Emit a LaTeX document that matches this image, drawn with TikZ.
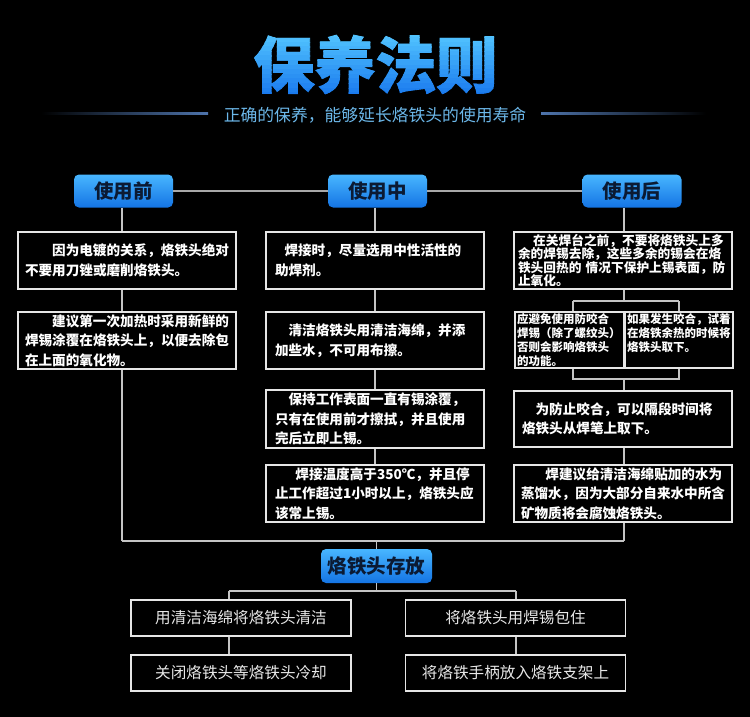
\documentclass[tikz,border=0pt]{standalone}
\usepackage{fontspec}
\setmainfont{Noto Sans CJK SC}
\newfontfamily\titlefont[BoldFeatures={FakeBold=1.5}]{Noto Sans CJK SC}
\definecolor{titletop}{HTML}{52C4FF}
\definecolor{titlebot}{HTML}{1A7AEE}
\definecolor{hdrtop}{HTML}{48B6FF}
\definecolor{hdrbot}{HTML}{1474E4}
\definecolor{hdrtext}{HTML}{0B1A33}
\definecolor{subtc}{HTML}{6CB8EA}
\definecolor{sublc}{HTML}{4E74AC}
\definecolor{hlinec}{HTML}{A8A8A8}
\definecolor{connc}{HTML}{C4C4C4}
\definecolor{boxc}{HTML}{E6E6E6}
\definecolor{btext}{HTML}{E8E8E8}
\begin{document}
\begin{tikzpicture}[x=1pt,y=-1pt,
  hdr/.style={rounded corners=5pt, top color=hdrtop, bottom color=hdrbot,
    minimum width=99pt, minimum height=33pt, inner sep=0pt, text=hdrtext,
    font=\fontsize{19.5}{20}\selectfont\bfseries},
  txtbox/.style={draw=boxc, line width=1.1pt, text=white, align=left,
    inner ysep=0pt, font=\fontsize{13.6}{19.5}\selectfont\bfseries},
  smallbox/.style={draw=boxc, line width=1.1pt, text=white, align=left,
    inner ysep=0pt, inner xsep=2pt},
  botbox/.style={draw=boxc, line width=1.1pt, text=btext, align=center,
    minimum width=220pt, minimum height=36pt, inner sep=0pt,
    font=\fontsize{15.6}{18}\selectfont},
  conn/.style={draw=connc, line width=1.1pt},
  hline/.style={draw=hlinec, line width=2pt}]
\fill[black] (0,0) rectangle (750,717);
\useasboundingbox (0,0) rectangle (750,717);

% title with stepped vertical gradient
\foreach \i in {0,...,13}{
  \pgfmathsetmacro\pct{100*\i/13}
  \begin{scope}
    \clip (240,{33+\i*4.6}) rectangle (510,{33+(\i+1)*4.6+0.3});
    \node[text=titlebot!\pct!titletop, inner sep=0pt,
      font=\titlefont\bfseries\fontsize{61}{61}\selectfont] (title\i) at (375.5,64.5) {保养法则};
  \end{scope}
}
% subtitle
\node[text=subtc, inner sep=0pt, font=\fontsize{16.8}{17}\selectfont] (subt) at (375,115) {正确的保养，能够延长烙铁头的使用寿命};
\shade[left color=black, right color=sublc] (41,112.4) rectangle (208,114);
\shade[left color=sublc, right color=black] (541,112.4) rectangle (706,114);

% headers
\node[hdr] (h1) at (123.5,191) {使用前};
\node[hdr] (h2) at (377.5,191) {使用中};
\node[hdr] (h3) at (632,191) {使用后};
\draw[hline] (h1.east) -- (h2.west);
\draw[hline] (h2.east) -- (h3.west);

% left column
\node[txtbox, minimum width=218pt, minimum height=57pt, inner xsep=7pt, text width=204pt] (l1) at (127,260.5)
  {\hspace*{2em}因为电镀的关系，烙铁头绝对\\不要用刀锉或磨削烙铁头。};
\node[txtbox, minimum width=218pt, minimum height=57pt, inner xsep=7pt, text width=204pt] (l2) at (127,340.5)
  {\hspace*{2em}建议第一次加热时采用新鲜的\\焊锡涂覆在烙铁头上，以便去除包\\在上面的氧化物。};

% middle column
\node[txtbox, minimum width=218pt, minimum height=57pt, inner xsep=9pt, text width=200pt] (m1) at (375,260.5)
  {\hspace*{0.7em}焊接时，尽量选用中性活性的\\助焊剂。};
\node[txtbox, minimum width=218pt, minimum height=57pt, inner xsep=9pt, text width=200pt] (m2) at (375,340.5)
  {\hspace*{1em}清洁烙铁头用清洁海绵，并添\\加些水，不可用布擦。};
\node[txtbox, minimum width=218pt, minimum height=58pt, inner xsep=9pt, text width=200pt] (m3) at (375,419)
  {\hspace*{1em}保持工作表面一直有锡涂覆，\\只有在使用前才擦拭，并且使用\\完后立即上锡。};
\node[txtbox, minimum width=218pt, minimum height=57pt, inner xsep=9pt, text width=200pt] (m4) at (375,493.5)
  {\hspace*{1.5em}焊接温度高于350℃，并且停\\止工作超过1小时以上，烙铁头应\\该常上锡。};

% right column
\node[txtbox, minimum width=218pt, minimum height=57pt, inner xsep=4pt, text width=210pt,
  font=\fontsize{12.7}{13.2}\selectfont\bfseries] (r1) at (623,260.5)
  {\hspace*{1.2em}在关焊台之前，不要将烙铁头上多\\余的焊锡去除，这些多余的锡会在烙\\铁头回热的 情况下保护上锡表面，防\\止氧化。};
\node[smallbox, minimum width=109pt, minimum height=56pt, text width=105pt,
  font=\fontsize{11.5}{14}\selectfont\bfseries] (rL) at (569.5,340)
  {应避免使用防咬合\\焊锡（除了螺纹头）\\否则会影响烙铁头\\的功能。};
\node[smallbox, minimum width=108pt, minimum height=56pt, text width=104pt,
  font=\fontsize{11.5}{14}\selectfont\bfseries] (rR) at (679,340)
  {如果发生咬合，试着\\在烙铁余热的时候将\\烙铁头取下。\\\mbox{}};
\node[txtbox, minimum width=218pt, minimum height=56pt, inner xsep=8pt, text width=202pt] (r3) at (623,419)
  {\hspace*{1em}为防止咬合，可以隔段时间将\\烙铁头从焊笔上取下。};
\node[txtbox, minimum width=218pt, minimum height=57pt, inner xsep=7pt, text width=204pt] (r4) at (623,493.5)
  {\hspace*{1.8em}焊建议给清洁海绵贴加的水为\\蒸馏水，因为大部分自来水中所含\\矿物质将会腐蚀烙铁头。};

% column connectors
\coordinate (bL) at (122,541);
\coordinate (bR) at (624,541);
\draw[conn] (h1.south -| bL) -- (l1.north -| bL);
\draw[conn] (l1.south -| bL) -- (l2.north -| bL);
\draw[conn] (l2.south -| bL) -- (bL);

\draw[conn] (h2.south -| m1.north) -- (m1.north);
\draw[conn] (m1.south) -- (m2.north);
\draw[conn] (m2.south) -- (m3.north);
\draw[conn] (m3.south) -- (m4.north);

\coordinate (rjA) at (573,301);
\coordinate (rjB) at (679,301);
\coordinate (rkA) at (573,379);
\coordinate (rkB) at (679,379);
\draw[conn] (h3.south -| bR) -- (r1.north -| bR);
\draw[conn] (r1.south -| bR) -- (rjA -| bR);
\draw[conn] (rjA) -- (rjB);
\draw[conn] (rjA) -- (rjA |- rL.north);
\draw[conn] (rjB) -- (rjB |- rR.north);
\draw[conn] (rjA |- rL.south) -- (rkA) -- (rkB) -- (rjB |- rR.south);
\draw[conn] (rkA -| bR) -- (r3.north -| bR);
\draw[conn] (r3.south -| bR) -- (r4.north -| bR);
\draw[conn] (r4.south -| bR) -- (bR);
\draw[conn] (bL) -- (bR);

% storage
\node[hdr, minimum width=111pt, minimum height=34pt] (st) at (376.5,566) {烙铁头存放};
\draw[conn] (st.north |- bL) -- (st.north);
\coordinate (sjA) at (229,591);
\coordinate (sjB) at (516,591);
\draw[conn] (st.south) -- (st.south |- sjA);
\draw[conn] (sjA) -- (sjB);

\node[botbox] (b1) at (241,618) {用清洁海绵将烙铁头清洁};
\node[botbox] (b2) at (515.5,618) {将烙铁头用焊锡包住};
\node[botbox] (b3) at (241,673) {关闭烙铁头等烙铁头冷却};
\node[botbox] (b4) at (515.5,673) {将烙铁手柄放入烙铁支架上};
\draw[conn] (sjA) -- (sjA |- b1.north);
\draw[conn] (sjB) -- (sjB |- b2.north);
\draw[conn] (b1.south -| sjA) -- (b3.north -| sjA);
\draw[conn] (b2.south -| sjB) -- (b4.north -| sjB);
\end{tikzpicture}
\end{document}
